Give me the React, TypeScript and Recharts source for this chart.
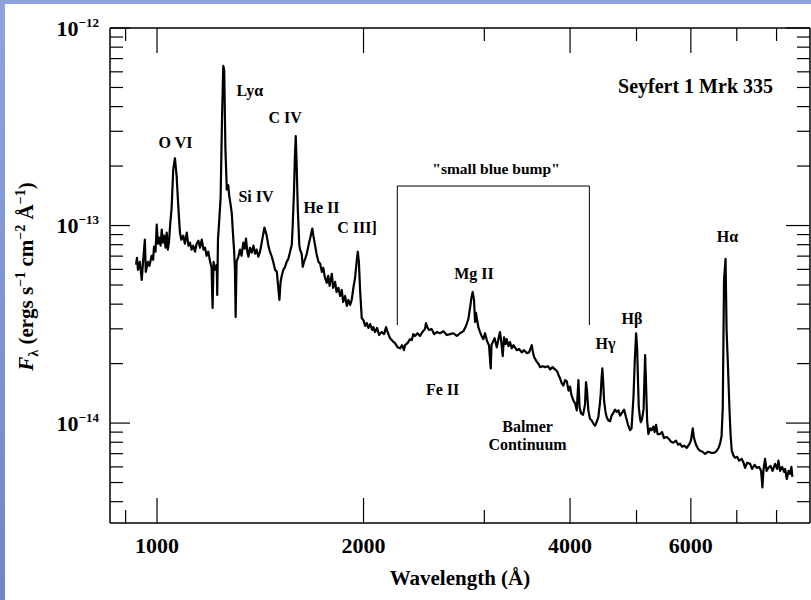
import { LineChart, Line, XAxis, YAxis, ReferenceLine, ReferenceDot } from 'recharts'

const SERIF = "'Liberation Serif', 'Times New Roman', Times, serif"

// observed wavelength, Å
const wavelength = [
  932, 935, 938, 944, 950, 954, 960, 963, 970, 975,
  982, 987, 990, 995, 999, 1003, 1007, 1012, 1016, 1020,
  1024, 1029, 1033, 1037, 1041, 1046, 1050, 1056, 1062, 1068,
  1074, 1080, 1085, 1092, 1098, 1105, 1111, 1117, 1123, 1129,
  1136, 1142, 1149, 1155, 1162, 1169, 1175, 1181, 1188, 1195,
  1201, 1205, 1209, 1215, 1222, 1224, 1227, 1232, 1238, 1244,
  1249, 1253, 1258, 1264, 1270, 1274, 1280, 1285, 1292, 1295,
  1299, 1302, 1306, 1314, 1321, 1328, 1336, 1343, 1348, 1354,
  1359, 1366, 1374, 1382, 1390, 1397, 1405, 1413, 1421, 1427,
  1434, 1437, 1445, 1453, 1461, 1470, 1477, 1486, 1495, 1501,
  1508, 1514, 1520, 1528, 1537, 1545, 1554, 1563, 1572, 1577,
  1584, 1588, 1593, 1597, 1604, 1612, 1616, 1625, 1631, 1638,
  1646, 1653, 1660, 1667, 1673, 1684, 1690, 1700, 1708, 1719,
  1729, 1739, 1747, 1756, 1768, 1776, 1785, 1798, 1806, 1818,
  1827, 1838, 1849, 1859, 1868, 1880, 1891, 1901, 1912, 1922,
  1933, 1944, 1954, 1962, 1969, 1977, 1988, 1999, 2011, 2022,
  2033, 2045, 2059, 2067, 2079, 2093, 2107, 2126, 2143, 2157,
  2168, 2186, 2205, 2223, 2242, 2261, 2276, 2291, 2299, 2318,
  2338, 2351, 2364, 2377, 2397, 2417, 2437, 2458, 2466, 2477,
  2491, 2514, 2534, 2557, 2586, 2615, 2644, 2674, 2702, 2735,
  2765, 2796, 2821, 2843, 2859, 2874, 2885, 2898, 2908, 2917,
  2940, 2957, 2972, 2990, 3007, 3027, 3047, 3065, 3073, 3086,
  3105, 3128, 3147, 3162, 3178, 3191, 3205, 3221, 3234, 3253,
  3270, 3289, 3308, 3345, 3371, 3401, 3428, 3459, 3486, 3518,
  3527, 3545, 3578, 3599, 3617, 3648, 3679, 3716, 3741, 3772,
  3804, 3830, 3856, 3869, 3891, 3912, 3934, 3956, 3980, 4000,
  4020, 4045, 4068, 4091, 4114, 4130, 4151, 4178, 4206, 4220,
  4234, 4253, 4277, 4302, 4325, 4350, 4372, 4398, 4423, 4434,
  4446, 4458, 4471, 4484, 4507, 4524, 4549, 4575, 4598, 4627,
  4653, 4679, 4705, 4731, 4763, 4795, 4827, 4859, 4892, 4917,
  4933, 4950, 4971, 4993, 5010, 5027, 5038, 5060, 5072, 5094,
  5120, 5146, 5163, 5181, 5203, 5233, 5260, 5291, 5313, 5339,
  5366, 5411, 5447, 5484, 5534, 5577, 5614, 5658, 5709, 5748,
  5785, 5824, 5863, 5917, 5962, 6002, 6038, 6064, 6105, 6146,
  6187, 6240, 6292, 6357, 6421, 6486, 6546, 6586, 6618, 6652,
  6678, 6707, 6741, 6764, 6791, 6829, 6856, 6883, 6925, 6961,
  7008, 7055, 7118, 7161, 7198, 7246, 7320, 7369, 7431, 7486,
  7544, 7595, 7628, 7659, 7697, 7736, 7782, 7840, 7893, 7960,
  8014, 8049, 8095, 8150, 8205, 8233, 8279, 8330, 8371, 8408, 8436,
]

// F_lambda in units of 1e-14 erg s^-1 cm^-2 Å^-1
const fluxE14 = [
  6.33, 6.87, 5.97, 6.55, 5.31, 6.48, 8.48, 5.83, 6.55, 6.25,
  7.03, 6.71, 7.82, 7.37, 10.1, 8.09, 8.69, 7.91, 9.54, 8.19,
  8.89, 7.72, 9.21, 7.55, 8.28, 10.5, 12.1, 19.3, 21.9, 17.8,
  12.5, 9.21, 8.48, 8.89, 8.09, 9.21, 7.91, 8.19, 7.55, 7.91,
  7.37, 8.09, 8.38, 7.72, 8.48, 7.55, 7.72, 7.03, 7.37, 6.55,
  6.11, 3.82, 6.55, 5.97, 6.33, 4.45, 8.48, 10.5, 13.9, 35.9,
  64.4, 60.8, 24.4, 15.2, 16.0, 14.2, 12.8, 11.6, 8.48, 7.55,
  5.97, 3.44, 6.55, 6.95, 7.55, 7.03, 8.19, 7.63, 8.59, 7.37,
  6.95, 7.72, 7.29, 7.91, 7.2, 7.55, 6.95, 7.37, 8.19, 8.89,
  9.77, 9.54, 8.89, 7.91, 7.37, 6.95, 6.55, 5.97, 5.83, 5.01,
  4.2, 5.19, 5.57, 5.97, 6.18, 6.55, 6.79, 7.37, 8.0, 10.1,
  15.2, 21.7, 28.4, 21.7, 12.1, 8.0, 7.55, 7.2, 6.18, 6.55,
  6.87, 7.2, 7.72, 8.28, 8.69, 9.66, 8.89, 7.91, 7.2, 6.55,
  6.4, 5.83, 6.11, 5.5, 5.13, 5.57, 4.95, 5.7, 4.84, 5.19,
  4.61, 4.84, 4.4, 4.72, 4.1, 4.4, 3.92, 4.2, 3.96, 4.2,
  4.84, 5.44, 6.55, 7.37, 6.55, 4.72, 3.4, 3.32, 3.1, 3.21,
  3.03, 3.17, 2.96, 3.06, 2.89, 3.03, 2.79, 2.89, 2.82, 3.06,
  2.89, 2.69, 2.6, 2.54, 2.42, 2.39, 2.48, 2.34, 2.48, 2.54,
  2.66, 2.63, 2.82, 2.76, 2.85, 2.76, 2.89, 2.99, 3.21, 3.06,
  2.96, 2.99, 2.82, 2.89, 2.85, 2.92, 2.79, 2.82, 2.85, 2.76,
  2.85, 2.92, 3.1, 3.36, 3.82, 4.35, 4.61, 4.2, 3.25, 3.61,
  3.06, 2.89, 2.76, 2.66, 2.85, 2.6, 2.48, 1.89, 2.48, 2.57,
  2.69, 2.42, 2.69, 2.89, 2.51, 2.18, 2.72, 2.51, 2.66, 2.45,
  2.57, 2.39, 2.48, 2.34, 2.37, 2.28, 2.34, 2.26, 2.28, 2.48,
  2.34, 2.16, 2.04, 1.99, 1.92, 1.94, 1.92, 1.94, 1.87, 1.92,
  1.87, 1.83, 1.72, 1.68, 1.59, 1.55, 1.65, 1.63, 1.46, 1.53,
  1.38, 1.3, 1.26, 1.16, 1.65, 1.2, 1.12, 1.1, 1.24, 1.61,
  1.46, 1.16, 1.05, 1.03, 0.994, 0.97, 1.01, 1.07, 1.27, 1.41,
  1.68, 1.89, 1.61, 1.3, 1.13, 1.07, 1.03, 1.02, 1.09, 1.13,
  1.17, 1.14, 1.16, 1.09, 1.13, 1.17, 1.07, 0.98, 0.92, 0.94,
  1.13, 1.38, 2.08, 2.85, 2.39, 1.55, 1.2, 1.05, 1.01, 1.05,
  1.18, 2.21, 1.55, 1.03, 0.88, 0.94, 0.92, 0.96, 0.9, 0.98,
  0.88, 0.88, 0.9, 0.84, 0.85, 0.83, 0.805, 0.796, 0.815, 0.777,
  0.787, 0.759, 0.768, 0.75, 0.777, 0.815, 0.94, 0.84, 0.777, 0.741,
  0.724, 0.716, 0.699, 0.716, 0.707, 0.707, 0.724, 0.75, 0.787, 0.86,
  1.2, 5.31, 6.79, 2.96, 2.08, 1.2, 0.87, 0.724, 0.683, 0.667,
  0.675, 0.645, 0.659, 0.629, 0.593, 0.629, 0.622, 0.586, 0.615, 0.593,
  0.6, 0.573, 0.472, 0.586, 0.659, 0.573, 0.593, 0.607, 0.573, 0.622,
  0.586, 0.645, 0.573, 0.6, 0.566, 0.586, 0.521, 0.573, 0.553, 0.6, 0.534,
]

const spectrum = wavelength.map((wl, i) => ({ wl, f: fluxE14[i] * 1e-14 }))

// axis ticks
const xTicks = [900, 1000, 2000, 3000, 4000, 5000, 6000, 7000, 8000]
const xLabelled = [1000, 2000, 4000, 6000]
const yTicks = [
  4e-15, 5e-15, 6e-15, 7e-15, 8e-15, 9e-15,
  1e-14, 2e-14, 3e-14, 4e-14, 5e-14, 6e-14, 7e-14, 8e-14, 9e-14,
  1e-13, 2e-13, 3e-13, 4e-13, 5e-13, 6e-13, 7e-13, 8e-13, 9e-13,
  1e-12,
]
const yMajor = [1e-14, 1e-13, 1e-12]
const yMajorExp = ['\u221214', '\u221213', '\u221212']

// line identifications, anchored at (wavelength, flux in 1e-14 units)
const labelText = [
  'O VI', 'Ly\u03b1', 'C IV', 'Si IV', 'He II', 'C III]', 'Mg II', '"small blue bump"',
  'Fe II', 'Balmer', 'Continuum', 'H\u03b3', 'H\u03b2', 'H\u03b1', 'Seyfert 1 Mrk 335',
]
const labelWl = [1064, 1366, 1537, 1394, 1737, 1957, 2898, 3120, 2608, 3468, 3468, 4506, 4925, 6786, 6095]
const labelFlux = [24.7, 45.3, 33.0, 13.2, 11.6, 9.16, 5.36, 18.2, 1.39, 0.906, 0.73, 2.37, 3.17, 8.28, 46.9]

// bracket around the small blue bump
const bumpEdges = [2240, 4268]
const bumpFlux = [3.135, 15.85]

const textStyle = { fontFamily: SERIF, fontWeight: 'bold' as const, fill: '#000' }

function BottomTick({ x, y, payload }: any) {
  const major = xLabelled.includes(payload.value)
  return (
    <g>
      <line x1={x} x2={x} y1={y} y2={y - (major ? 25 : 13)} stroke="#000" strokeWidth={1.2} />
      {major && (
        <text x={x} y={y + 30} textAnchor="middle" fontSize={22} {...textStyle}>
          {payload.value}
        </text>
      )}
    </g>
  )
}

function TopTick({ x, y, payload }: any) {
  const major = xLabelled.includes(payload.value)
  return <line x1={x} x2={x} y1={y} y2={y + (major ? 25 : 13)} stroke="#000" strokeWidth={1.2} />
}

function LeftTick({ x, y, payload }: any) {
  const i = yMajor.indexOf(payload.value)
  return (
    <g>
      <line x1={x} x2={x + (i >= 0 ? 20 : 13)} y1={y} y2={y} stroke="#000" strokeWidth={1.2} />
      {i >= 0 && (
        <text x={x - 11} y={y + 7.5} textAnchor="end" {...textStyle} fontSize={22}>
          10
          <tspan fontSize={13} dy={-9}>{yMajorExp[i]}</tspan>
        </text>
      )}
    </g>
  )
}

function RightTick({ x, y, payload }: any) {
  const major = yMajor.includes(payload.value)
  return <line x1={x} x2={x - (major ? 24 : 13)} y1={y} y2={y} stroke="#000" strokeWidth={1.2} />
}

function XTitle({ viewBox }: any) {
  return (
    <text x={viewBox.x + viewBox.width / 2} y={viewBox.y + 62} textAnchor="middle" fontSize={21} {...textStyle}>
      Wavelength (Å)
    </text>
  )
}

function YTitle({ viewBox }: any) {
  const cy = viewBox.y + viewBox.height / 2 + 1
  return (
    <text transform={`translate(${viewBox.x + 33},${cy}) rotate(-90)`} textAnchor="middle" fontSize={21} {...textStyle}>
      <tspan fontStyle="italic">F</tspan>
      <tspan fontSize={14} dy={5}>λ</tspan>
      <tspan dy={-5}> (ergs s</tspan>
      <tspan fontSize={14} dy={-8}>−1</tspan>
      <tspan dy={8}> cm</tspan>
      <tspan fontSize={14} dy={-8}>−2</tspan>
      <tspan dy={8}> Å</tspan>
      <tspan fontSize={14} dy={-8}>−1</tspan>
      <tspan dy={8}>)</tspan>
    </text>
  )
}

function labelSize(t: string) {
  if (t.startsWith('Seyfert')) return 20
  if (t.startsWith('"')) return 15.5
  return 16
}

const axisLine = { stroke: '#000', strokeWidth: 1.5 }

export default function App() {
  const [x0, x1] = bumpEdges
  const [yLow, yHigh] = bumpFlux.map((v) => v * 1e-14)
  return (
    <div style={{ position: 'absolute', left: 0, top: 0, width: 811, height: 600, background: '#fff' }}>
      <div style={{ position: 'absolute', left: 0, top: 0, width: 811, height: 4, background: '#8ea3dd' }} />
      <div
        style={{
          position: 'absolute', left: 0, top: 0, width: 5, height: 600,
          background: 'linear-gradient(#8ea4de, #7186c8)',
        }}
      />
      <LineChart width={811} height={600} data={spectrum} margin={{ top: 0, right: 0, bottom: 0, left: 0 }}>
        <XAxis
          xAxisId="bottom" dataKey="wl" type="number" scale="log" domain={[854, 8950]} allowDataOverflow
          ticks={xTicks} interval={0} tickSize={0} tickMargin={0} tickLine={false}
          tick={(p: any) => <BottomTick {...p} />} axisLine={axisLine} height={77}
          label={(p: any) => <XTitle {...p} />}
        />
        <XAxis
          xAxisId="top" orientation="top" dataKey="wl" type="number" scale="log" domain={[854, 8950]} allowDataOverflow
          ticks={xTicks} interval={0} tickSize={0} tickMargin={0} tickLine={false}
          tick={(p: any) => <TopTick {...p} />} axisLine={axisLine} height={28}
        />
        <YAxis
          yAxisId="left" type="number" scale="log" domain={[3.12e-15, 1e-12]} allowDataOverflow
          ticks={yTicks} interval={0} tickSize={0} tickMargin={0} tickLine={false}
          tick={(p: any) => <LeftTick {...p} />} axisLine={axisLine} width={110}
          label={(p: any) => <YTitle {...p} />}
        />
        <YAxis
          yAxisId="right" orientation="right" type="number" scale="log" domain={[3.12e-15, 1e-12]} allowDataOverflow
          ticks={yTicks} interval={0} tickSize={0} tickMargin={0} tickLine={false}
          tick={(p: any) => <RightTick {...p} />} axisLine={axisLine} width={1}
        />

        <Line
          xAxisId="top" yAxisId="right" dataKey="f" stroke="none" dot={false}
          isAnimationActive={false} legendType="none"
        />
        <Line
          xAxisId="bottom" yAxisId="left" type="linear" dataKey="f" stroke="#000" strokeWidth={2.2}
          strokeLinejoin="round" dot={false} isAnimationActive={false}
        />

        <ReferenceLine xAxisId="bottom" yAxisId="left" segment={[{ x: x0, y: yLow }, { x: x0, y: yHigh }]} stroke="#000" strokeWidth={1} />
        <ReferenceLine xAxisId="bottom" yAxisId="left" segment={[{ x: x0, y: yHigh }, { x: x1, y: yHigh }]} stroke="#000" strokeWidth={1} />
        <ReferenceLine xAxisId="bottom" yAxisId="left" segment={[{ x: x1, y: yHigh }, { x: x1, y: yLow }]} stroke="#000" strokeWidth={1} />

        {labelText.map((t, i) => (
          <ReferenceDot
            key={t}
            xAxisId="bottom"
            yAxisId="left"
            x={labelWl[i]}
            y={labelFlux[i] * 1e-14}
            r={0}
            shape={(p: any) => (
              <text x={p.cx} y={p.cy} textAnchor="middle" fontSize={labelSize(t)} {...textStyle}>
                {t}
              </text>
            )}
          />
        ))}
      </LineChart>
    </div>
  )
}
